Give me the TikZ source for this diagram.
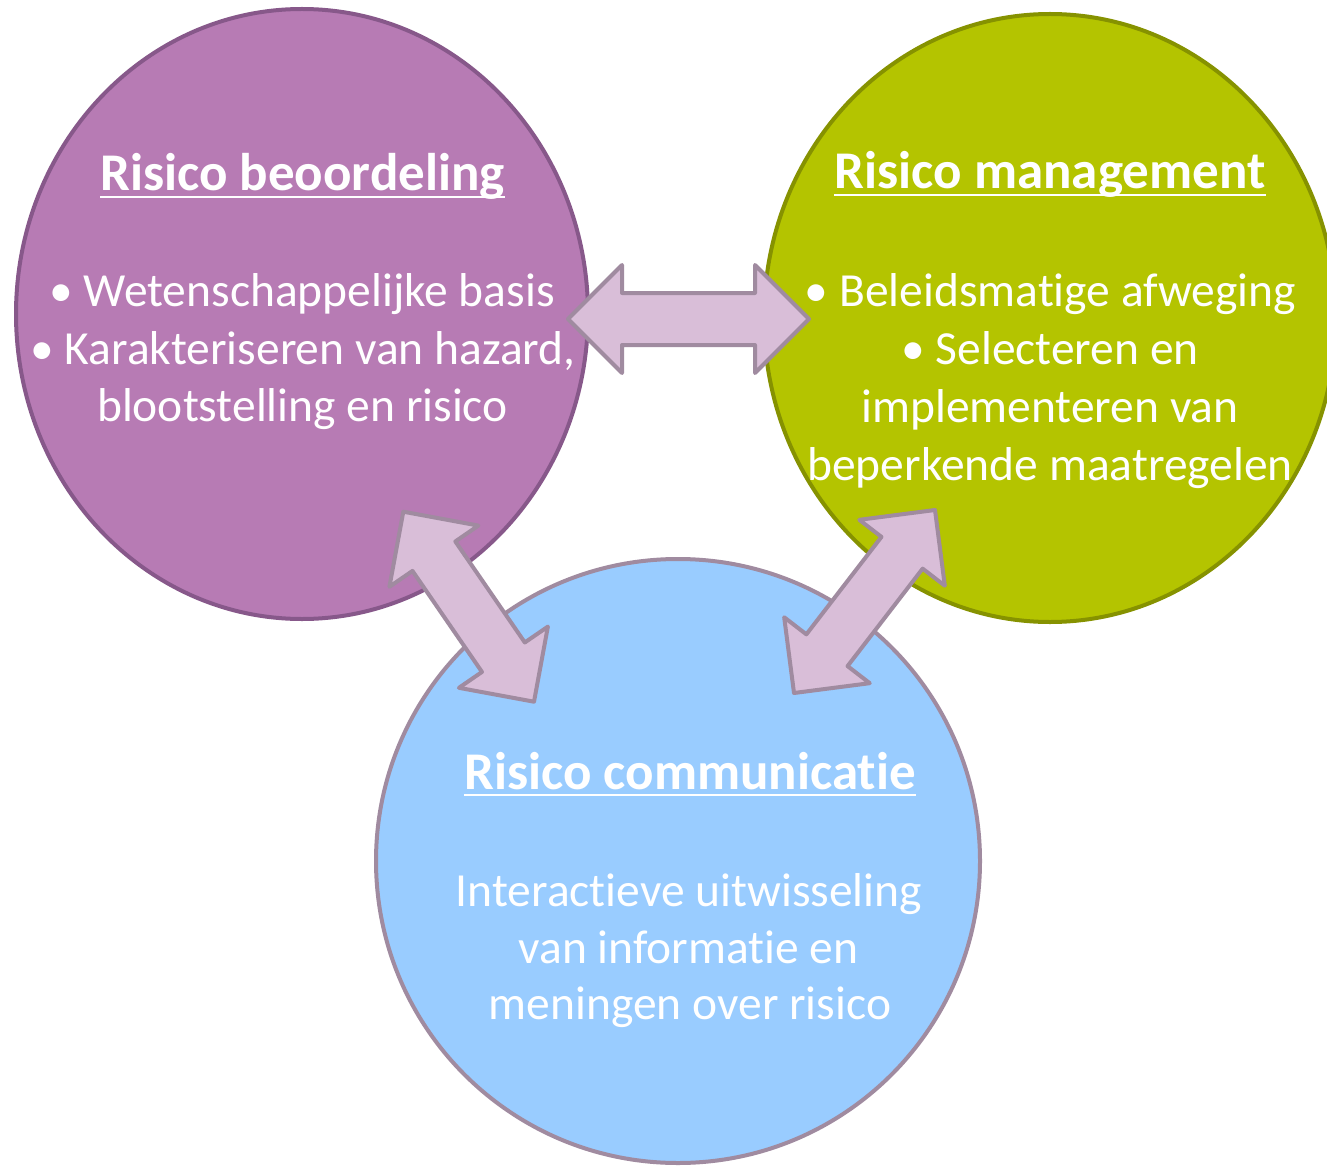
\documentclass[tikz,border=0pt]{standalone}
\usepackage{fontspec}
\setmainfont{Carlito}[Ligatures=NoCommon]
\usetikzlibrary{shapes.geometric,calc}

\definecolor{purplefill}{HTML}{B77BB4}
\definecolor{purpleline}{HTML}{87588A}
\definecolor{greenfill}{HTML}{B4C400}
\definecolor{greenline}{HTML}{869200}
\definecolor{bluefill}{HTML}{99CCFF}
\definecolor{mauveline}{HTML}{A08BA0}
\definecolor{arrowfill}{HTML}{D9BED8}

\tikzset{
  circ/.style={ellipse, line width=4pt, inner sep=0pt, outer sep=0pt},
  head/.style={font=\fontsize{53}{64}\selectfont\bfseries, text=white, inner sep=0pt, anchor=base},
  body/.style={font=\fontsize{47.5}{57}\selectfont, text=white, inner sep=0pt, anchor=base},
  uline/.style={draw=white, line width=2.6pt},
  blockarrow/.style={fill=arrowfill, draw=mauveline, line width=4pt, line join=round},
}

\newcommand{\blockarrow}[2]{%
  \draw[blockarrow] (#1)
    -- ($(#1)!54pt!(#2)!54pt!90:(#2)$)
    -- ($(#1)!54pt!(#2)!26pt!90:(#2)$)
    -- ($(#2)!54pt!(#1)!26pt!-90:(#1)$)
    -- ($(#2)!54pt!(#1)!54pt!-90:(#1)$)
    -- (#2)
    -- ($(#2)!54pt!(#1)!54pt!90:(#1)$)
    -- ($(#2)!54pt!(#1)!26pt!90:(#1)$)
    -- ($(#1)!54pt!(#2)!26pt!-90:(#2)$)
    -- ($(#1)!54pt!(#2)!54pt!-90:(#2)$)
    -- cycle;}

\newcommand{\headline}[1]{%
  \draw[uline] ([yshift=-6pt]#1.base west) -- ([yshift=-6pt]#1.base east);}

\begin{document}
\begin{tikzpicture}[x=1pt, y=-1pt]
\useasboundingbox (0,0) rectangle (1327,1166);

% circles
\node[circ, fill=purplefill, draw=purpleline, minimum width=572pt, minimum height=610pt] (assess) at (302,314) {};
\node[circ, fill=greenfill, draw=greenline, minimum width=572pt, minimum height=608pt] (manage) at (1050,318) {};
\node[circ, fill=bluefill, draw=mauveline, minimum width=604pt, minimum height=604pt] (comm) at (678,861) {};

% arrow end points
\coordinate (hL) at (568,319);
\coordinate (hR) at (809,319);
\coordinate (lA) at (403.3,511.7);
\coordinate (lB) at (534,701.7);
\coordinate (rA) at (794,693);
\coordinate (rB) at (935,510);

\blockarrow{hL}{hR}
\blockarrow{lA}{lB}
\blockarrow{rA}{rB}

% Risico beoordeling
\node[head] (hA) at (302.5,191) {Risico beoordeling};
\headline{hA}
\node[body] (a1) at (302,306) {• Wetenschappelijke basis};
\node[body] (a2) at (303,364) {• Karakteriseren van hazard,};
\node[body] (a3) at (302.5,421) {blootstelling en risico};

% Risico management
\node[head] (hM) at (1050,189) {Risico management};
\headline{hM}
\node[body] (m1) at (1050.5,306) {• Beleidsmatige afweging};
\node[body] (m2) at (1050,364) {• Selecteren en};
\node[body] (m3) at (1050,422) {implementeren van};
\node[body] (m4) at (1050,480) {beperkende maatregelen};

% Risico communicatie
\node[head] (hC) at (690,789) {Risico communicatie};
\headline{hC}
\node[body] (c1) at (689,906) {Interactieve uitwisseling};
\node[body] (c2) at (688.5,963) {van informatie en};
\node[body] (c3) at (690,1019) {meningen over risico};
\end{tikzpicture}
\end{document}
